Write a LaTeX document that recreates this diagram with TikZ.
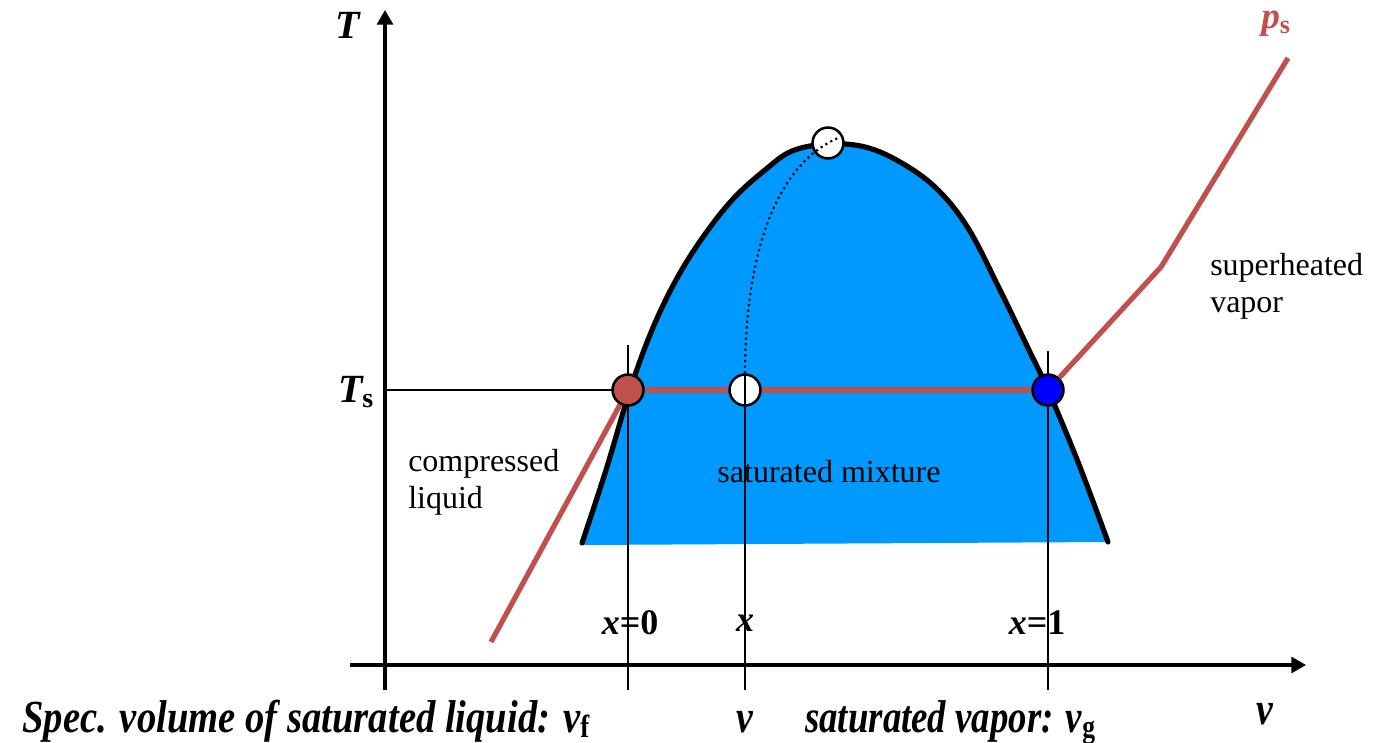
\documentclass[tikz,border=0pt]{standalone}
\usepackage{fontspec}
\usepackage{graphicx}
\setmainfont{Liberation Serif}
\usetikzlibrary{arrows.meta}
\definecolor{rd}{RGB}{192,80,77}
\definecolor{domeblue}{RGB}{0,153,255}
\definecolor{dotblue}{RGB}{0,0,255}
\newcommand\mysub[1]{\textsubscript{\upshape\bfseries #1}}
\newcommand\lowsub[1]{\raisebox{-0.12em}{\upshape\bfseries\fontsize{24}{24}\selectfont #1}}
\begin{document}
\begin{tikzpicture}[x=0.75pt,y=-0.75pt,
  axis/.style={line width=2.3pt,-{Triangle[length=11pt,width=12pt]}},
  thin/.style={line width=1.5pt},
  redline/.style={line width=3.9pt,draw=rd},
  domeline/.style={line width=3.9pt,line join=round,line cap=round},
  dotp/.style={circle,draw,line width=1.9pt,minimum size=23.2pt,inner sep=0pt},
  lbl/.style={font=\fontsize{24}{28}\selectfont,inner sep=0pt,align=left},
  big/.style={font=\fontsize{30}{34}\selectfont\bfseries\itshape,inner sep=0pt},
  xl/.style={font=\fontsize{27}{30}\selectfont\bfseries,inner sep=0pt},
  bot/.style={font=\fontsize{34.5}{40}\selectfont\bfseries\itshape,inner sep=0pt},
  dotted curve/.style={line width=1.6pt,dash pattern=on 1.6pt off 2.6pt}]
\useasboundingbox (0,0) rectangle (1394,742);

% coordinates
\coordinate (origin) at (385,665);
\coordinate (vbot) at (385,690);
\coordinate (vtop) at (385,10);
\coordinate (hleft) at (350,665);
\coordinate (hright) at (1306,665);
\coordinate (ftop) at (628,345);
\coordinate (fbot) at (628,690);
\coordinate (wbot) at (745,690);
\coordinate (gtop) at (1048,351);
\coordinate (gbot) at (1048,690);
\coordinate (tsl) at (385,390);
\coordinate (lend) at (491,642);
\coordinate (kink) at (1161,267);
\coordinate (pend) at (1288,58);
\coordinate (dotend) at (838,138);

% dome fill
\fill[domeblue] plot[smooth,tension=0.6] coordinates {(582,543) (606,470) (630,390) (652,330) (676,280) (703,237) (733,199) (765,170) (792,151) (828,144) (865,147) (900,162) (936,188) (968,228) (1000,290) (1028,348) (1048,390) (1078,462) (1108,542)} -- (583,545) -- cycle;

% thin lines
\draw[thin] (ftop) -- (fbot);
\draw[thin] (gtop) -- (gbot);
\draw[thin] (tsl) -- (628,390);

% axes
\draw[axis] (vbot) -- (vtop);
\draw[axis] (hleft) -- (hright);

% dome outline
\draw[domeline] plot[smooth,tension=0.6] coordinates {(582,543) (606,470) (630,390) (652,330) (676,280) (703,237) (733,199) (765,170) (792,151) (828,144) (865,147) (900,162) (936,188) (968,228) (1000,290) (1028,348) (1048,390) (1078,462) (1108,542)};

% state points
\node[dotp,fill=rd] (f) at (628,390) {};
\node[dotp,fill=white] (w) at (745,390) {};
\node[dotp,fill=dotblue] (g) at (1048,390) {};
\node[dotp,fill=white] (c) at (828,143) {};

% red isobar
\draw[redline] (lend) -- (f);
\draw[redline] (f) -- (w);
\draw[redline] (w) -- (g);
\draw[redline,line join=round] (g) -- (kink) -- (pend);

% lines over points
\draw[thin] (w.north) -- (wbot);
\draw[dotted curve] (w.north) .. controls (745,280) and (765,170) .. (dotend);

% labels
\node[big] (Tlab) at (348,25) {T};
\node[big] (Tslab) at (356,392) {T\mysub{s}};
\node[font=\fontsize{28}{32}\selectfont\bfseries\itshape,inner sep=0pt,text=rd] (plab) at (1276,24) {p\mysub{s}};
\node[lbl,anchor=west] (cl) at (408,482) {compressed\\liquid};
\node[lbl] (sm) at (829,472) {saturated mixture};
\node[lbl,anchor=west] (sv) at (1210,286) {superheated\\vapor};
\node[xl] (x0) at (630,623) {\itshape x\upshape=0};
\node[xl] (xx) at (745,623) {\itshape x};
\node[xl] (x1) at (1037,623) {\itshape x\upshape=1};
\node[bot,anchor=base west] (vflab) at (22,732) {\scalebox{0.84}[1]{Spec. volume of saturated liquid: v\lowsub{f}}};
\node[bot,anchor=base] (vlab) at (745,732) {\scalebox{0.82}[1]{v}};
\node[bot,anchor=base west] (vglab) at (805,732) {\scalebox{0.8}[1]{saturated vapor: v\lowsub{g}}};
\node[bot,anchor=base] (vax) at (1265,724) {\scalebox{0.82}[1]{v}};
\end{tikzpicture}
\end{document}
